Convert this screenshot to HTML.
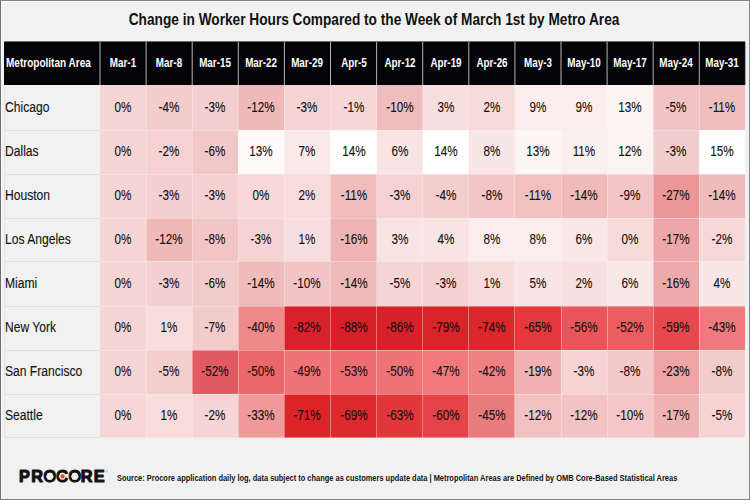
<!DOCTYPE html>
<html><head><meta charset="utf-8"><title>Change in Worker Hours</title>
<style>
html,body{margin:0;padding:0;}
body{width:750px;height:500px;position:relative;overflow:hidden;background:#f1f1f1;font-family:"Liberation Sans",Arial,sans-serif;}
.a{position:absolute;}
.t{position:absolute;white-space:nowrap;line-height:1;}
.hd{color:#fff;font-weight:bold;font-size:12px;}
.num{color:#111;font-size:15.5px;-webkit-text-stroke:0.12px #111;}
.nm{color:#111;font-size:15.5px;-webkit-text-stroke:0.12px #111;}
</style></head><body>

<div class="a" style="left:0;top:0;width:750px;height:1px;background:#85858b"></div>
<div class="a" style="left:0;top:0;width:1px;height:500px;background:#6e6e74"></div>
<div class="a" style="left:749px;top:0;width:1px;height:500px;background:#86868a"></div>
<div class="a" style="left:0;top:499px;width:750px;height:1px;background:#857f7e"></div>
<div class="a" style="left:1px;top:1px;width:748px;height:1px;background:#fafafa"></div>
<div class="a" style="left:1px;top:1px;width:1px;height:498px;background:#fafafa"></div>
<div class="t" style="left:0;width:750px;top:11px;text-align:center;font-weight:bold;font-size:16.3px;color:#111;"><span style="display:inline-block;transform:scaleX(0.84);transform-origin:50% 0;margin-left:-1px">Change in Worker Hours Compared to the Week of March 1st by Metro Area</span></div>
<div class="a" style="left:4.0px;top:41px;width:741.4px;height:1px;background:rgba(4,4,8,0.55)"></div>
<div class="a" style="left:4.0px;top:42px;width:741.4px;height:43.0px;background:#040408"></div>
<div class="a" style="left:99px;top:42px;width:1px;height:43.0px;background:rgb(90,92,95)"></div>
<div class="a" style="left:100px;top:42px;width:1px;height:43.0px;background:rgb(90,92,95)"></div>
<div class="a" style="left:145px;top:42px;width:1px;height:43.0px;background:rgb(73,75,78)"></div>
<div class="a" style="left:146px;top:42px;width:1px;height:43.0px;background:rgb(107,109,112)"></div>
<div class="a" style="left:191px;top:42px;width:1px;height:43.0px;background:rgb(56,58,61)"></div>
<div class="a" style="left:192px;top:42px;width:1px;height:43.0px;background:rgb(124,126,129)"></div>
<div class="a" style="left:237px;top:42px;width:1px;height:43.0px;background:rgb(38,40,43)"></div>
<div class="a" style="left:238px;top:42px;width:1px;height:43.0px;background:rgb(142,144,147)"></div>
<div class="a" style="left:283px;top:42px;width:1px;height:43.0px;background:rgb(21,23,26)"></div>
<div class="a" style="left:284px;top:42px;width:1px;height:43.0px;background:rgb(159,161,164)"></div>
<div class="a" style="left:330px;top:42px;width:1px;height:43.0px;background:rgb(176,178,181)"></div>
<div class="a" style="left:376px;top:42px;width:1px;height:43.0px;background:rgb(159,161,164)"></div>
<div class="a" style="left:377px;top:42px;width:1px;height:43.0px;background:rgb(21,23,26)"></div>
<div class="a" style="left:422px;top:42px;width:1px;height:43.0px;background:rgb(142,144,147)"></div>
<div class="a" style="left:423px;top:42px;width:1px;height:43.0px;background:rgb(38,40,43)"></div>
<div class="a" style="left:468px;top:42px;width:1px;height:43.0px;background:rgb(124,126,129)"></div>
<div class="a" style="left:469px;top:42px;width:1px;height:43.0px;background:rgb(56,58,61)"></div>
<div class="a" style="left:514px;top:42px;width:1px;height:43.0px;background:rgb(107,109,112)"></div>
<div class="a" style="left:515px;top:42px;width:1px;height:43.0px;background:rgb(73,75,78)"></div>
<div class="a" style="left:560px;top:42px;width:1px;height:43.0px;background:rgb(90,92,95)"></div>
<div class="a" style="left:561px;top:42px;width:1px;height:43.0px;background:rgb(90,92,95)"></div>
<div class="a" style="left:606px;top:42px;width:1px;height:43.0px;background:rgb(73,75,78)"></div>
<div class="a" style="left:607px;top:42px;width:1px;height:43.0px;background:rgb(107,109,112)"></div>
<div class="a" style="left:652px;top:42px;width:1px;height:43.0px;background:rgb(56,58,61)"></div>
<div class="a" style="left:653px;top:42px;width:1px;height:43.0px;background:rgb(124,126,129)"></div>
<div class="a" style="left:698px;top:42px;width:1px;height:43.0px;background:rgb(38,40,43)"></div>
<div class="a" style="left:699px;top:42px;width:1px;height:43.0px;background:rgb(142,144,147)"></div>
<div class="a" style="left:744px;top:42px;width:1px;height:43.0px;background:rgb(21,23,26)"></div>
<div class="a" style="left:745px;top:42px;width:1px;height:43.0px;background:rgb(159,161,164)"></div>
<div class="t hd" style="left:5.6px;top:56.6px;transform:scaleX(0.835);transform-origin:0 0">Metropolitan Area</div>
<div class="t hd" style="left:93.05px;width:60px;text-align:center;top:56.6px;transform:scaleX(0.82)">Mar-1</div>
<div class="t hd" style="left:139.15px;width:60px;text-align:center;top:56.6px;transform:scaleX(0.82)">Mar-8</div>
<div class="t hd" style="left:185.25px;width:60px;text-align:center;top:56.6px;transform:scaleX(0.82)">Mar-15</div>
<div class="t hd" style="left:231.35px;width:60px;text-align:center;top:56.6px;transform:scaleX(0.82)">Mar-22</div>
<div class="t hd" style="left:277.45px;width:60px;text-align:center;top:56.6px;transform:scaleX(0.82)">Mar-29</div>
<div class="t hd" style="left:323.55px;width:60px;text-align:center;top:56.6px;transform:scaleX(0.82)">Apr-5</div>
<div class="t hd" style="left:369.65px;width:60px;text-align:center;top:56.6px;transform:scaleX(0.82)">Apr-12</div>
<div class="t hd" style="left:415.75px;width:60px;text-align:center;top:56.6px;transform:scaleX(0.82)">Apr-19</div>
<div class="t hd" style="left:461.85px;width:60px;text-align:center;top:56.6px;transform:scaleX(0.82)">Apr-26</div>
<div class="t hd" style="left:507.95px;width:60px;text-align:center;top:56.6px;transform:scaleX(0.82)">May-3</div>
<div class="t hd" style="left:554.05px;width:60px;text-align:center;top:56.6px;transform:scaleX(0.82)">May-10</div>
<div class="t hd" style="left:600.15px;width:60px;text-align:center;top:56.6px;transform:scaleX(0.82)">May-17</div>
<div class="t hd" style="left:646.25px;width:60px;text-align:center;top:56.6px;transform:scaleX(0.82)">May-24</div>
<div class="t hd" style="left:692.35px;width:60px;text-align:center;top:56.6px;transform:scaleX(0.82)">May-31</div>
<div class="t nm" style="left:5.2px;top:98.60px;transform:scaleX(0.78);transform-origin:0 0">Chicago</div>
<div class="a" style="left:100px;top:85px;width:46px;height:45px;background:#f6d5d5"></div>
<div class="t num" style="left:93.05px;width:60px;text-align:center;top:98.60px;transform:scaleX(0.755)">0%</div>
<div class="a" style="left:146px;top:85px;width:46px;height:45px;background:#f3cccc"></div>
<div class="t num" style="left:139.15px;width:60px;text-align:center;top:98.60px;transform:scaleX(0.755)">-4%</div>
<div class="a" style="left:192px;top:85px;width:46px;height:45px;background:#f4cfcf"></div>
<div class="t num" style="left:185.25px;width:60px;text-align:center;top:98.60px;transform:scaleX(0.755)">-3%</div>
<div class="a" style="left:238px;top:85px;width:46px;height:45px;background:#efb9ba"></div>
<div class="t num" style="left:231.35px;width:60px;text-align:center;top:98.60px;transform:scaleX(0.755)">-12%</div>
<div class="a" style="left:284px;top:85px;width:46px;height:45px;background:#f5d3d3"></div>
<div class="t num" style="left:277.45px;width:60px;text-align:center;top:98.60px;transform:scaleX(0.755)">-3%</div>
<div class="a" style="left:330px;top:85px;width:47px;height:45px;background:#f6d7d7"></div>
<div class="t num" style="left:323.55px;width:60px;text-align:center;top:98.60px;transform:scaleX(0.755)">-1%</div>
<div class="a" style="left:377px;top:85px;width:46px;height:45px;background:#f0bdbe"></div>
<div class="t num" style="left:369.65px;width:60px;text-align:center;top:98.60px;transform:scaleX(0.755)">-10%</div>
<div class="a" style="left:423px;top:85px;width:46px;height:45px;background:#f8dfdf"></div>
<div class="t num" style="left:415.75px;width:60px;text-align:center;top:98.60px;transform:scaleX(0.755)">3%</div>
<div class="a" style="left:469px;top:85px;width:46px;height:45px;background:#f7dbdb"></div>
<div class="t num" style="left:461.85px;width:60px;text-align:center;top:98.60px;transform:scaleX(0.755)">2%</div>
<div class="a" style="left:515px;top:85px;width:46px;height:45px;background:#fbeded"></div>
<div class="t num" style="left:507.95px;width:60px;text-align:center;top:98.60px;transform:scaleX(0.755)">9%</div>
<div class="a" style="left:561px;top:85px;width:46px;height:45px;background:#fbeded"></div>
<div class="t num" style="left:554.05px;width:60px;text-align:center;top:98.60px;transform:scaleX(0.755)">9%</div>
<div class="a" style="left:607px;top:85px;width:46px;height:45px;background:#fcf3f3"></div>
<div class="t num" style="left:600.15px;width:60px;text-align:center;top:98.60px;transform:scaleX(0.755)">13%</div>
<div class="a" style="left:653px;top:85px;width:46px;height:45px;background:#f1c4c5"></div>
<div class="t num" style="left:646.25px;width:60px;text-align:center;top:98.60px;transform:scaleX(0.755)">-5%</div>
<div class="a" style="left:699px;top:85px;width:46px;height:45px;background:#f0bebf"></div>
<div class="t num" style="left:692.35px;width:60px;text-align:center;top:98.60px;transform:scaleX(0.755)">-11%</div>
<div class="t nm" style="left:5.2px;top:142.66px;transform:scaleX(0.78);transform-origin:0 0">Dallas</div>
<div class="a" style="left:100px;top:130px;width:46px;height:44px;background:#f6d5d5"></div>
<div class="t num" style="left:93.05px;width:60px;text-align:center;top:142.66px;transform:scaleX(0.755)">0%</div>
<div class="a" style="left:146px;top:130px;width:46px;height:44px;background:#f5d1d1"></div>
<div class="t num" style="left:139.15px;width:60px;text-align:center;top:142.66px;transform:scaleX(0.755)">-2%</div>
<div class="a" style="left:192px;top:130px;width:46px;height:44px;background:#f2c7c8"></div>
<div class="t num" style="left:185.25px;width:60px;text-align:center;top:142.66px;transform:scaleX(0.755)">-6%</div>
<div class="a" style="left:238px;top:130px;width:46px;height:44px;background:#fefafa"></div>
<div class="t num" style="left:231.35px;width:60px;text-align:center;top:142.66px;transform:scaleX(0.755)">13%</div>
<div class="a" style="left:284px;top:130px;width:46px;height:44px;background:#fae9e9"></div>
<div class="t num" style="left:277.45px;width:60px;text-align:center;top:142.66px;transform:scaleX(0.755)">7%</div>
<div class="a" style="left:330px;top:130px;width:47px;height:44px;background:#fffefe"></div>
<div class="t num" style="left:323.55px;width:60px;text-align:center;top:142.66px;transform:scaleX(0.755)">14%</div>
<div class="a" style="left:377px;top:130px;width:46px;height:44px;background:#f9e4e4"></div>
<div class="t num" style="left:369.65px;width:60px;text-align:center;top:142.66px;transform:scaleX(0.755)">6%</div>
<div class="a" style="left:423px;top:130px;width:46px;height:44px;background:#fffefe"></div>
<div class="t num" style="left:415.75px;width:60px;text-align:center;top:142.66px;transform:scaleX(0.755)">14%</div>
<div class="a" style="left:469px;top:130px;width:46px;height:44px;background:#f9e6e6"></div>
<div class="t num" style="left:461.85px;width:60px;text-align:center;top:142.66px;transform:scaleX(0.755)">8%</div>
<div class="a" style="left:515px;top:130px;width:46px;height:44px;background:#fdf6f6"></div>
<div class="t num" style="left:507.95px;width:60px;text-align:center;top:142.66px;transform:scaleX(0.755)">13%</div>
<div class="a" style="left:561px;top:130px;width:46px;height:44px;background:#fbf0f0"></div>
<div class="t num" style="left:554.05px;width:60px;text-align:center;top:142.66px;transform:scaleX(0.755)">11%</div>
<div class="a" style="left:607px;top:130px;width:46px;height:44px;background:#fcf3f3"></div>
<div class="t num" style="left:600.15px;width:60px;text-align:center;top:142.66px;transform:scaleX(0.755)">12%</div>
<div class="a" style="left:653px;top:130px;width:46px;height:44px;background:#f3cdce"></div>
<div class="t num" style="left:646.25px;width:60px;text-align:center;top:142.66px;transform:scaleX(0.755)">-3%</div>
<div class="a" style="left:699px;top:130px;width:46px;height:44px;background:#ffffff"></div>
<div class="t num" style="left:692.35px;width:60px;text-align:center;top:142.66px;transform:scaleX(0.755)">15%</div>
<div class="t nm" style="left:5.2px;top:186.72px;transform:scaleX(0.78);transform-origin:0 0">Houston</div>
<div class="a" style="left:100px;top:174px;width:46px;height:44px;background:#f6d5d5"></div>
<div class="t num" style="left:93.05px;width:60px;text-align:center;top:186.72px;transform:scaleX(0.755)">0%</div>
<div class="a" style="left:146px;top:174px;width:46px;height:44px;background:#f4cfcf"></div>
<div class="t num" style="left:139.15px;width:60px;text-align:center;top:186.72px;transform:scaleX(0.755)">-3%</div>
<div class="a" style="left:192px;top:174px;width:46px;height:44px;background:#f4d0d0"></div>
<div class="t num" style="left:185.25px;width:60px;text-align:center;top:186.72px;transform:scaleX(0.755)">-3%</div>
<div class="a" style="left:238px;top:174px;width:46px;height:44px;background:#f7d9d9"></div>
<div class="t num" style="left:231.35px;width:60px;text-align:center;top:186.72px;transform:scaleX(0.755)">0%</div>
<div class="a" style="left:284px;top:174px;width:46px;height:44px;background:#f8dcdc"></div>
<div class="t num" style="left:277.45px;width:60px;text-align:center;top:186.72px;transform:scaleX(0.755)">2%</div>
<div class="a" style="left:330px;top:174px;width:47px;height:44px;background:#f0bcbd"></div>
<div class="t num" style="left:323.55px;width:60px;text-align:center;top:186.72px;transform:scaleX(0.755)">-11%</div>
<div class="a" style="left:377px;top:174px;width:46px;height:44px;background:#f5d2d2"></div>
<div class="t num" style="left:369.65px;width:60px;text-align:center;top:186.72px;transform:scaleX(0.755)">-3%</div>
<div class="a" style="left:423px;top:174px;width:46px;height:44px;background:#f4cdcd"></div>
<div class="t num" style="left:415.75px;width:60px;text-align:center;top:186.72px;transform:scaleX(0.755)">-4%</div>
<div class="a" style="left:469px;top:174px;width:46px;height:44px;background:#f2c5c6"></div>
<div class="t num" style="left:461.85px;width:60px;text-align:center;top:186.72px;transform:scaleX(0.755)">-8%</div>
<div class="a" style="left:515px;top:174px;width:46px;height:44px;background:#f1c0c1"></div>
<div class="t num" style="left:507.95px;width:60px;text-align:center;top:186.72px;transform:scaleX(0.755)">-11%</div>
<div class="a" style="left:561px;top:174px;width:46px;height:44px;background:#f0b9ba"></div>
<div class="t num" style="left:554.05px;width:60px;text-align:center;top:186.72px;transform:scaleX(0.755)">-14%</div>
<div class="a" style="left:607px;top:174px;width:46px;height:44px;background:#f2c5c6"></div>
<div class="t num" style="left:600.15px;width:60px;text-align:center;top:186.72px;transform:scaleX(0.755)">-9%</div>
<div class="a" style="left:653px;top:174px;width:46px;height:44px;background:#eb9697"></div>
<div class="t num" style="left:646.25px;width:60px;text-align:center;top:186.72px;transform:scaleX(0.755)">-27%</div>
<div class="a" style="left:699px;top:174px;width:46px;height:44px;background:#f0bbbc"></div>
<div class="t num" style="left:692.35px;width:60px;text-align:center;top:186.72px;transform:scaleX(0.755)">-14%</div>
<div class="t nm" style="left:5.2px;top:230.79px;transform:scaleX(0.78);transform-origin:0 0">Los Angeles</div>
<div class="a" style="left:100px;top:218px;width:46px;height:43px;background:#f6d5d5"></div>
<div class="t num" style="left:93.05px;width:60px;text-align:center;top:230.79px;transform:scaleX(0.755)">0%</div>
<div class="a" style="left:146px;top:218px;width:46px;height:43px;background:#efb8b9"></div>
<div class="t num" style="left:139.15px;width:60px;text-align:center;top:230.79px;transform:scaleX(0.755)">-12%</div>
<div class="a" style="left:192px;top:218px;width:46px;height:43px;background:#f2c6c7"></div>
<div class="t num" style="left:185.25px;width:60px;text-align:center;top:230.79px;transform:scaleX(0.755)">-8%</div>
<div class="a" style="left:238px;top:218px;width:46px;height:43px;background:#f5d3d3"></div>
<div class="t num" style="left:231.35px;width:60px;text-align:center;top:230.79px;transform:scaleX(0.755)">-3%</div>
<div class="a" style="left:284px;top:218px;width:46px;height:43px;background:#f8dfdf"></div>
<div class="t num" style="left:277.45px;width:60px;text-align:center;top:230.79px;transform:scaleX(0.755)">1%</div>
<div class="a" style="left:330px;top:218px;width:47px;height:43px;background:#efb4b5"></div>
<div class="t num" style="left:323.55px;width:60px;text-align:center;top:230.79px;transform:scaleX(0.755)">-16%</div>
<div class="a" style="left:377px;top:218px;width:46px;height:43px;background:#f9e3e3"></div>
<div class="t num" style="left:369.65px;width:60px;text-align:center;top:230.79px;transform:scaleX(0.755)">3%</div>
<div class="a" style="left:423px;top:218px;width:46px;height:43px;background:#f9e4e4"></div>
<div class="t num" style="left:415.75px;width:60px;text-align:center;top:230.79px;transform:scaleX(0.755)">4%</div>
<div class="a" style="left:469px;top:218px;width:46px;height:43px;background:#fbeded"></div>
<div class="t num" style="left:461.85px;width:60px;text-align:center;top:230.79px;transform:scaleX(0.755)">8%</div>
<div class="a" style="left:515px;top:218px;width:46px;height:43px;background:#fbeded"></div>
<div class="t num" style="left:507.95px;width:60px;text-align:center;top:230.79px;transform:scaleX(0.755)">8%</div>
<div class="a" style="left:561px;top:218px;width:46px;height:43px;background:#fae7e7"></div>
<div class="t num" style="left:554.05px;width:60px;text-align:center;top:230.79px;transform:scaleX(0.755)">6%</div>
<div class="a" style="left:607px;top:218px;width:46px;height:43px;background:#f7dada"></div>
<div class="t num" style="left:600.15px;width:60px;text-align:center;top:230.79px;transform:scaleX(0.755)">0%</div>
<div class="a" style="left:653px;top:218px;width:46px;height:43px;background:#eea7a8"></div>
<div class="t num" style="left:646.25px;width:60px;text-align:center;top:230.79px;transform:scaleX(0.755)">-17%</div>
<div class="a" style="left:699px;top:218px;width:46px;height:43px;background:#f6d8d8"></div>
<div class="t num" style="left:692.35px;width:60px;text-align:center;top:230.79px;transform:scaleX(0.755)">-2%</div>
<div class="t nm" style="left:5.2px;top:274.85px;transform:scaleX(0.78);transform-origin:0 0">Miami</div>
<div class="a" style="left:100px;top:261px;width:46px;height:45px;background:#f6d5d5"></div>
<div class="t num" style="left:93.05px;width:60px;text-align:center;top:274.85px;transform:scaleX(0.755)">0%</div>
<div class="a" style="left:146px;top:261px;width:46px;height:45px;background:#f4cfcf"></div>
<div class="t num" style="left:139.15px;width:60px;text-align:center;top:274.85px;transform:scaleX(0.755)">-3%</div>
<div class="a" style="left:192px;top:261px;width:46px;height:45px;background:#f3cbcb"></div>
<div class="t num" style="left:185.25px;width:60px;text-align:center;top:274.85px;transform:scaleX(0.755)">-6%</div>
<div class="a" style="left:238px;top:261px;width:46px;height:45px;background:#f0bbbc"></div>
<div class="t num" style="left:231.35px;width:60px;text-align:center;top:274.85px;transform:scaleX(0.755)">-14%</div>
<div class="a" style="left:284px;top:261px;width:46px;height:45px;background:#f2c4c5"></div>
<div class="t num" style="left:277.45px;width:60px;text-align:center;top:274.85px;transform:scaleX(0.755)">-10%</div>
<div class="a" style="left:330px;top:261px;width:47px;height:45px;background:#f0b9ba"></div>
<div class="t num" style="left:323.55px;width:60px;text-align:center;top:274.85px;transform:scaleX(0.755)">-14%</div>
<div class="a" style="left:377px;top:261px;width:46px;height:45px;background:#f5d5d5"></div>
<div class="t num" style="left:369.65px;width:60px;text-align:center;top:274.85px;transform:scaleX(0.755)">-5%</div>
<div class="a" style="left:423px;top:261px;width:46px;height:45px;background:#f5d0d0"></div>
<div class="t num" style="left:415.75px;width:60px;text-align:center;top:274.85px;transform:scaleX(0.755)">-3%</div>
<div class="a" style="left:469px;top:261px;width:46px;height:45px;background:#f7dbdb"></div>
<div class="t num" style="left:461.85px;width:60px;text-align:center;top:274.85px;transform:scaleX(0.755)">1%</div>
<div class="a" style="left:515px;top:261px;width:46px;height:45px;background:#f9e5e5"></div>
<div class="t num" style="left:507.95px;width:60px;text-align:center;top:274.85px;transform:scaleX(0.755)">5%</div>
<div class="a" style="left:561px;top:261px;width:46px;height:45px;background:#f8e0e0"></div>
<div class="t num" style="left:554.05px;width:60px;text-align:center;top:274.85px;transform:scaleX(0.755)">2%</div>
<div class="a" style="left:607px;top:261px;width:46px;height:45px;background:#fae8e8"></div>
<div class="t num" style="left:600.15px;width:60px;text-align:center;top:274.85px;transform:scaleX(0.755)">6%</div>
<div class="a" style="left:653px;top:261px;width:46px;height:45px;background:#eea9aa"></div>
<div class="t num" style="left:646.25px;width:60px;text-align:center;top:274.85px;transform:scaleX(0.755)">-16%</div>
<div class="a" style="left:699px;top:261px;width:46px;height:45px;background:#f9e6e6"></div>
<div class="t num" style="left:692.35px;width:60px;text-align:center;top:274.85px;transform:scaleX(0.755)">4%</div>
<div class="t nm" style="left:5.2px;top:318.91px;transform:scaleX(0.78);transform-origin:0 0">New York</div>
<div class="a" style="left:100px;top:306px;width:46px;height:44px;background:#f6d5d5"></div>
<div class="t num" style="left:93.05px;width:60px;text-align:center;top:318.91px;transform:scaleX(0.755)">0%</div>
<div class="a" style="left:146px;top:306px;width:46px;height:44px;background:#f8dbdb"></div>
<div class="t num" style="left:139.15px;width:60px;text-align:center;top:318.91px;transform:scaleX(0.755)">1%</div>
<div class="a" style="left:192px;top:306px;width:46px;height:44px;background:#f4cbcb"></div>
<div class="t num" style="left:185.25px;width:60px;text-align:center;top:318.91px;transform:scaleX(0.755)">-7%</div>
<div class="a" style="left:238px;top:306px;width:46px;height:44px;background:#ef898a"></div>
<div class="t num" style="left:231.35px;width:60px;text-align:center;top:318.91px;transform:scaleX(0.755)">-40%</div>
<div class="a" style="left:284px;top:306px;width:46px;height:44px;background:#d8212a"></div>
<div class="t num" style="left:277.45px;width:60px;text-align:center;top:318.91px;transform:scaleX(0.755)">-82%</div>
<div class="a" style="left:330px;top:306px;width:47px;height:44px;background:#d71f29"></div>
<div class="t num" style="left:323.55px;width:60px;text-align:center;top:318.91px;transform:scaleX(0.755)">-88%</div>
<div class="a" style="left:377px;top:306px;width:46px;height:44px;background:#d82029"></div>
<div class="t num" style="left:369.65px;width:60px;text-align:center;top:318.91px;transform:scaleX(0.755)">-86%</div>
<div class="a" style="left:423px;top:306px;width:46px;height:44px;background:#da2229"></div>
<div class="t num" style="left:415.75px;width:60px;text-align:center;top:318.91px;transform:scaleX(0.755)">-79%</div>
<div class="a" style="left:469px;top:306px;width:46px;height:44px;background:#dd272c"></div>
<div class="t num" style="left:461.85px;width:60px;text-align:center;top:318.91px;transform:scaleX(0.755)">-74%</div>
<div class="a" style="left:515px;top:306px;width:46px;height:44px;background:#e3383c"></div>
<div class="t num" style="left:507.95px;width:60px;text-align:center;top:318.91px;transform:scaleX(0.755)">-65%</div>
<div class="a" style="left:561px;top:306px;width:46px;height:44px;background:#e8555a"></div>
<div class="t num" style="left:554.05px;width:60px;text-align:center;top:318.91px;transform:scaleX(0.755)">-56%</div>
<div class="a" style="left:607px;top:306px;width:46px;height:44px;background:#ea5e61"></div>
<div class="t num" style="left:600.15px;width:60px;text-align:center;top:318.91px;transform:scaleX(0.755)">-52%</div>
<div class="a" style="left:653px;top:306px;width:46px;height:44px;background:#e5494d"></div>
<div class="t num" style="left:646.25px;width:60px;text-align:center;top:318.91px;transform:scaleX(0.755)">-59%</div>
<div class="a" style="left:699px;top:306px;width:46px;height:44px;background:#ee7b7d"></div>
<div class="t num" style="left:692.35px;width:60px;text-align:center;top:318.91px;transform:scaleX(0.755)">-43%</div>
<div class="t nm" style="left:5.2px;top:362.98px;transform:scaleX(0.78);transform-origin:0 0">San Francisco</div>
<div class="a" style="left:100px;top:350px;width:46px;height:44px;background:#f6d5d5"></div>
<div class="t num" style="left:93.05px;width:60px;text-align:center;top:362.98px;transform:scaleX(0.755)">0%</div>
<div class="a" style="left:146px;top:350px;width:46px;height:44px;background:#f4cdcd"></div>
<div class="t num" style="left:139.15px;width:60px;text-align:center;top:362.98px;transform:scaleX(0.755)">-5%</div>
<div class="a" style="left:192px;top:350px;width:46px;height:44px;background:#e15b60"></div>
<div class="t num" style="left:185.25px;width:60px;text-align:center;top:362.98px;transform:scaleX(0.755)">-52%</div>
<div class="a" style="left:238px;top:350px;width:46px;height:44px;background:#eb686a"></div>
<div class="t num" style="left:231.35px;width:60px;text-align:center;top:362.98px;transform:scaleX(0.755)">-50%</div>
<div class="a" style="left:284px;top:350px;width:46px;height:44px;background:#f07476"></div>
<div class="t num" style="left:277.45px;width:60px;text-align:center;top:362.98px;transform:scaleX(0.755)">-49%</div>
<div class="a" style="left:330px;top:350px;width:47px;height:44px;background:#ed6d70"></div>
<div class="t num" style="left:323.55px;width:60px;text-align:center;top:362.98px;transform:scaleX(0.755)">-53%</div>
<div class="a" style="left:377px;top:350px;width:46px;height:44px;background:#ef7274"></div>
<div class="t num" style="left:369.65px;width:60px;text-align:center;top:362.98px;transform:scaleX(0.755)">-50%</div>
<div class="a" style="left:423px;top:350px;width:46px;height:44px;background:#f07a7b"></div>
<div class="t num" style="left:415.75px;width:60px;text-align:center;top:362.98px;transform:scaleX(0.755)">-47%</div>
<div class="a" style="left:469px;top:350px;width:46px;height:44px;background:#f08183"></div>
<div class="t num" style="left:461.85px;width:60px;text-align:center;top:362.98px;transform:scaleX(0.755)">-42%</div>
<div class="a" style="left:515px;top:350px;width:46px;height:44px;background:#f0b2b3"></div>
<div class="t num" style="left:507.95px;width:60px;text-align:center;top:362.98px;transform:scaleX(0.755)">-19%</div>
<div class="a" style="left:561px;top:350px;width:46px;height:44px;background:#f6d4d4"></div>
<div class="t num" style="left:554.05px;width:60px;text-align:center;top:362.98px;transform:scaleX(0.755)">-3%</div>
<div class="a" style="left:607px;top:350px;width:46px;height:44px;background:#f3c9c9"></div>
<div class="t num" style="left:600.15px;width:60px;text-align:center;top:362.98px;transform:scaleX(0.755)">-8%</div>
<div class="a" style="left:653px;top:350px;width:46px;height:44px;background:#eea3a5"></div>
<div class="t num" style="left:646.25px;width:60px;text-align:center;top:362.98px;transform:scaleX(0.755)">-23%</div>
<div class="a" style="left:699px;top:350px;width:46px;height:44px;background:#f3cbcb"></div>
<div class="t num" style="left:692.35px;width:60px;text-align:center;top:362.98px;transform:scaleX(0.755)">-8%</div>
<div class="t nm" style="left:5.2px;top:407.04px;transform:scaleX(0.78);transform-origin:0 0">Seattle</div>
<div class="a" style="left:100px;top:394px;width:46px;height:44px;background:#f6d6d6"></div>
<div class="t num" style="left:93.05px;width:60px;text-align:center;top:407.04px;transform:scaleX(0.755)">0%</div>
<div class="a" style="left:146px;top:394px;width:46px;height:44px;background:#f8dcdc"></div>
<div class="t num" style="left:139.15px;width:60px;text-align:center;top:407.04px;transform:scaleX(0.755)">1%</div>
<div class="a" style="left:192px;top:394px;width:46px;height:44px;background:#f6d5d5"></div>
<div class="t num" style="left:185.25px;width:60px;text-align:center;top:407.04px;transform:scaleX(0.755)">-2%</div>
<div class="a" style="left:238px;top:394px;width:46px;height:44px;background:#f09a9c"></div>
<div class="t num" style="left:231.35px;width:60px;text-align:center;top:407.04px;transform:scaleX(0.755)">-33%</div>
<div class="a" style="left:284px;top:394px;width:46px;height:44px;background:#dc2328"></div>
<div class="t num" style="left:277.45px;width:60px;text-align:center;top:407.04px;transform:scaleX(0.755)">-71%</div>
<div class="a" style="left:330px;top:394px;width:47px;height:44px;background:#dd292e"></div>
<div class="t num" style="left:323.55px;width:60px;text-align:center;top:407.04px;transform:scaleX(0.755)">-69%</div>
<div class="a" style="left:377px;top:394px;width:46px;height:44px;background:#e1373b"></div>
<div class="t num" style="left:369.65px;width:60px;text-align:center;top:407.04px;transform:scaleX(0.755)">-63%</div>
<div class="a" style="left:423px;top:394px;width:46px;height:44px;background:#e44347"></div>
<div class="t num" style="left:415.75px;width:60px;text-align:center;top:407.04px;transform:scaleX(0.755)">-60%</div>
<div class="a" style="left:469px;top:394px;width:46px;height:44px;background:#ea7b7d"></div>
<div class="t num" style="left:461.85px;width:60px;text-align:center;top:407.04px;transform:scaleX(0.755)">-45%</div>
<div class="a" style="left:515px;top:394px;width:46px;height:44px;background:#f2c2c3"></div>
<div class="t num" style="left:507.95px;width:60px;text-align:center;top:407.04px;transform:scaleX(0.755)">-12%</div>
<div class="a" style="left:561px;top:394px;width:46px;height:44px;background:#f2c3c4"></div>
<div class="t num" style="left:554.05px;width:60px;text-align:center;top:407.04px;transform:scaleX(0.755)">-12%</div>
<div class="a" style="left:607px;top:394px;width:46px;height:44px;background:#f3c7c8"></div>
<div class="t num" style="left:600.15px;width:60px;text-align:center;top:407.04px;transform:scaleX(0.755)">-10%</div>
<div class="a" style="left:653px;top:394px;width:46px;height:44px;background:#efb3b4"></div>
<div class="t num" style="left:646.25px;width:60px;text-align:center;top:407.04px;transform:scaleX(0.755)">-17%</div>
<div class="a" style="left:699px;top:394px;width:46px;height:44px;background:#f5d3d3"></div>
<div class="t num" style="left:692.35px;width:60px;text-align:center;top:407.04px;transform:scaleX(0.755)">-5%</div>
<div class="a" style="left:4.0px;top:130px;width:96.0px;height:1px;background:#dedede"></div>
<div class="a" style="left:100.0px;top:130px;width:645.40px;height:1px;background:rgba(250,242,242,0.4)"></div>
<div class="a" style="left:4.0px;top:174px;width:96.0px;height:1px;background:#dedede"></div>
<div class="a" style="left:100.0px;top:174px;width:645.40px;height:1px;background:rgba(250,242,242,0.4)"></div>
<div class="a" style="left:4.0px;top:218px;width:96.0px;height:1px;background:#dedede"></div>
<div class="a" style="left:100.0px;top:218px;width:645.40px;height:1px;background:rgba(250,242,242,0.4)"></div>
<div class="a" style="left:4.0px;top:261px;width:96.0px;height:1px;background:#dedede"></div>
<div class="a" style="left:100.0px;top:261px;width:645.40px;height:1px;background:rgba(250,242,242,0.4)"></div>
<div class="a" style="left:4.0px;top:306px;width:96.0px;height:1px;background:#dedede"></div>
<div class="a" style="left:100.0px;top:306px;width:645.40px;height:1px;background:rgba(250,242,242,0.4)"></div>
<div class="a" style="left:4.0px;top:350px;width:96.0px;height:1px;background:#dedede"></div>
<div class="a" style="left:100.0px;top:350px;width:645.40px;height:1px;background:rgba(250,242,242,0.4)"></div>
<div class="a" style="left:4.0px;top:394px;width:96.0px;height:1px;background:#dedede"></div>
<div class="a" style="left:100.0px;top:394px;width:645.40px;height:1px;background:rgba(250,242,242,0.4)"></div>
<div class="a" style="left:4.0px;top:437px;width:96.0px;height:1px;background:#dedede"></div>
<div class="a" style="left:100.0px;top:437px;width:645.40px;height:1px;background:rgba(250,242,242,0.4)"></div>
<div class="a" style="left:4.0px;top:85.0px;width:1px;height:352.5px;background:#e4e4e4"></div>
<div class="a" style="left:146px;top:85.0px;width:1px;height:352.5px;background:rgba(250,242,242,0.4)"></div>
<div class="a" style="left:192px;top:85.0px;width:1px;height:352.5px;background:rgba(250,242,242,0.4)"></div>
<div class="a" style="left:238px;top:85.0px;width:1px;height:352.5px;background:rgba(250,242,242,0.4)"></div>
<div class="a" style="left:284px;top:85.0px;width:1px;height:352.5px;background:rgba(250,242,242,0.4)"></div>
<div class="a" style="left:330px;top:85.0px;width:1px;height:352.5px;background:rgba(250,242,242,0.4)"></div>
<div class="a" style="left:376px;top:85.0px;width:1px;height:352.5px;background:rgba(250,242,242,0.4)"></div>
<div class="a" style="left:422px;top:85.0px;width:1px;height:352.5px;background:rgba(250,242,242,0.4)"></div>
<div class="a" style="left:468px;top:85.0px;width:1px;height:352.5px;background:rgba(250,242,242,0.4)"></div>
<div class="a" style="left:514px;top:85.0px;width:1px;height:352.5px;background:rgba(250,242,242,0.4)"></div>
<div class="a" style="left:561px;top:85.0px;width:1px;height:352.5px;background:rgba(250,242,242,0.4)"></div>
<div class="a" style="left:607px;top:85.0px;width:1px;height:352.5px;background:rgba(250,242,242,0.4)"></div>
<div class="a" style="left:653px;top:85.0px;width:1px;height:352.5px;background:rgba(250,242,242,0.4)"></div>
<div class="a" style="left:699px;top:85.0px;width:1px;height:352.5px;background:rgba(250,242,242,0.4)"></div>
<svg class="a" style="left:0;top:460px" width="120" height="30" viewBox="0 460 120 30">
<text transform="scale(0.97,1)" x="19.69 32.35 44.92 57.99 70.59 83.23 96.58" y="482.3" font-family="Liberation Sans, sans-serif" font-weight="bold" font-size="16.8" fill="#111" stroke="#111" stroke-width="1.1" stroke-linejoin="round">PROCORE</text>
<polygon points="46.15,476.40 47.75,473.10 51.95,473.10 53.55,476.40 51.95,479.70 47.75,479.70" fill="#f1f1f1"/>
<polygon points="71.10,476.40 72.70,473.10 76.90,473.10 78.50,476.40 76.90,479.70 72.70,479.70" fill="#f1f1f1"/>
<polygon points="58.80,476.40 60.30,473.20 64.30,473.20 65.80,476.40 64.30,479.60 60.30,479.60" fill="#f1f1f1"/>
<circle cx="62.6" cy="476.4" r="2.1" fill="#ee4a1c"/>
<text x="105.6" y="473.2" font-family="Liberation Sans, sans-serif" font-size="3" fill="#555">&#174;</text>
</svg>
<div class="t" style="left:116.6px;top:472.5px;font-size:9.5px;font-weight:bold;color:#111;transform:scaleX(0.784);transform-origin:0 0">Source: Procore application daily log, data subject to change as customers update data | Metropolitan Areas are Defined by OMB Core-Based Statistical Areas</div>
</body></html>
